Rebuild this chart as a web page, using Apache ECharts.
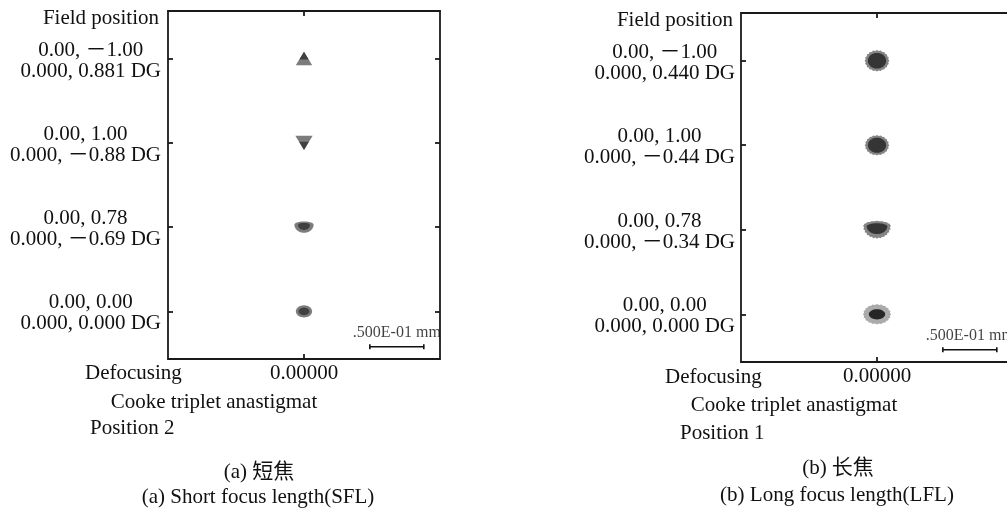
<!DOCTYPE html>
<html><head><meta charset="utf-8">
<script src="https://cdn.jsdelivr.net/npm/echarts@6/dist/echarts.min.js"></script>
<style>html,body{margin:0;padding:0;background:#fff}#c{width:1007px;height:511px}</style>
</head><body><div id="c"></div>
<script>
// ---------- data ----------
const fieldIndex = [0, 1, 2, 3];
const fieldCoords = ['0.00, －1.00', '0.00, 1.00', '0.00, 0.78', '0.00, 0.00'];
const fieldAnglesSFL = ['0.000, 0.881 DG', '0.000, －0.88 DG', '0.000, －0.69 DG', '0.000, 0.000 DG'];
const fieldAnglesLFL = ['0.000, 0.440 DG', '0.000, －0.44 DG', '0.000, －0.34 DG', '0.000, 0.000 DG'];
const defocusValue = '0.00000';
// spot centroid x (mm) and spot extents (mm)
const spotXSFL = [0, 0, 0, 0];
const spotWidthSFL = [0.0152, 0.0160, 0.0178, 0.0150];
const spotHeightSFL = [0.0125, 0.0130, 0.0105, 0.0112];
const coreWidthSFL = [0.0085, 0.0090, 0.0110, 0.0100];
const coreHeightSFL = [0.0070, 0.0075, 0.0065, 0.0070];
const spotXLFL = [0, 0, 0, 0];
const spotWidthLFL = [0.0230, 0.0228, 0.0262, 0.0262];
const spotHeightLFL = [0.0200, 0.0190, 0.0165, 0.0190];
const coreWidthLFL = [0.0170, 0.0168, 0.0190, 0.0150];
const coreHeightLFL = [0.0145, 0.0140, 0.0100, 0.0095];
const scaleBarMm = [0.061, 0.111];
const scaleBarField = 3.42;
const scaleBarLabel = '.500E-01 mm';
const xRangeMm = [-0.126, 0.126];
const fieldRange = [-0.565, 3.565];

// ---------- style ----------
const FONT = '"Liberation Serif", "Noto Sans CJK SC", serif';
const INK = '#111';
const lineStyle = { color: '#1a1a1a', width: 1.8 };
const spotKindsSFL = ['up', 'down', 'bowl', 'oval'];
const spotKindsLFL = ['blob', 'blob', 'bowl', 'halo'];

function ellipsePts(cx, cy, rx, ry, t0, t1, n, jag) {
  const pts = [];
  for (let k = 0; k <= n; k++) {
    const t = t0 + (t1 - t0) * k / n;
    const f = jag ? (k % 2 ? 0.92 : 1) : 1;
    pts.push([cx + rx * f * Math.cos(t), cy + ry * f * Math.sin(t)]);
  }
  return pts;
}
function bowlPts(cx, top, rx, h, jag) {
  const cy = top + h * 0.28;
  const lower = ellipsePts(cx, cy, rx, h * 0.72, 0, Math.PI, 24, jag);
  const upper = ellipsePts(cx, cy, rx, h * 0.28, Math.PI, Math.PI * 2, 16, jag);
  return lower.concat(upper);
}

function makeRender(kinds, halo, core, jagged) {
  return function (params, api) {
    const c = api.coord([api.value(0), api.value(1)]);
    const w = api.size([api.value(2), 0])[0];
    const h = api.size([api.value(3), 0])[0];
    const cw = api.size([api.value(4), 0])[0];
    const ch = api.size([api.value(5), 0])[0];
    const kind = kinds[params.dataIndex];
    const x = c[0], y = c[1];
    let outer, inner, oc = halo, ic = core;
    if (kind === 'up') {
      outer = [[x, y - h / 2], [x + w / 2, y + h / 2], [x - w / 2, y + h / 2]];
      inner = [[x, y - h / 2], [x + cw / 2, y - h / 2 + ch], [x - cw / 2, y - h / 2 + ch]];
    } else if (kind === 'down') {
      outer = [[x - w / 2, y - h / 2], [x + w / 2, y - h / 2], [x, y + h / 2]];
      inner = [[x, y + h / 2], [x + cw / 2, y + h / 2 - ch], [x - cw / 2, y + h / 2 - ch]];
    } else if (kind === 'bowl') {
      outer = bowlPts(x, y - h / 2, w / 2, h, jagged);
      inner = bowlPts(x, y - h / 2 + (h - ch) * 0.35, cw / 2, ch, false);
    } else if (kind === 'halo') {
      outer = ellipsePts(x, y, w / 2, h / 2, 0, Math.PI * 2, 40, true);
      inner = ellipsePts(x, y, cw / 2, ch / 2, 0, Math.PI * 2, 32, false);
      oc = '#ababab'; ic = '#262626';
    } else if (kind === 'blob') {
      outer = ellipsePts(x, y, w / 2, h / 2, 0, Math.PI * 2, 40, true);
      inner = ellipsePts(x, y, cw / 2, ch / 2, 0, Math.PI * 2, 32, false);
    } else {
      outer = ellipsePts(x, y, w / 2, h / 2, 0, Math.PI * 2, 32, false);
      inner = ellipsePts(x, y, cw / 2, ch / 2, 0, Math.PI * 2, 32, false);
    }
    return {
      type: 'group',
      children: [
        { type: 'polygon', shape: { points: outer }, style: { fill: oc } },
        { type: 'polygon', shape: { points: inner }, style: { fill: ic } }
      ]
    };
  };
}

function xAxes(gi) {
  const base = {
    type: 'value', gridIndex: gi, min: xRangeMm[0], max: xRangeMm[1],
    axisLine: { show: true, onZero: false, lineStyle },
    axisTick: { show: true, inside: true, length: 5, customValues: [0], lineStyle },
    splitLine: { show: false }
  };
  return [
    Object.assign({}, base, { position: 'bottom',
      axisLabel: { show: true, customValues: [0], formatter: () => defocusValue, margin: 4,
        fontSize: 21, fontFamily: FONT, color: INK } }),
    Object.assign({}, base, { position: 'top', axisLabel: { show: false } })
  ];
}
function yAxes(gi, angles, margin) {
  const base = {
    type: 'value', gridIndex: gi, min: fieldRange[0], max: fieldRange[1], inverse: true,
    axisLine: { show: true, onZero: false, lineStyle },
    axisTick: { show: true, inside: true, length: 5, customValues: fieldIndex, lineStyle },
    splitLine: { show: false }
  };
  return [
    Object.assign({}, base, { position: 'left',
      axisLabel: { show: true, customValues: fieldIndex, margin: margin, align: 'right',
        padding: [4, 0, 0, 0],
        formatter: v => { const i = Math.round(v); return '{c|' + fieldCoords[i] + '}\n{c|' + angles[i] + '}'; },
        rich: { c: { align: 'center', fontSize: 21, lineHeight: 21, fontFamily: FONT, color: INK } } } }),
    Object.assign({}, base, { position: 'right', axisLabel: { show: false } })
  ];
}

function spotSeries(xi, yi, xs, ws, hs, cws, chs, kinds, halo, core, jagged) {
  return {
    type: 'custom', xAxisIndex: xi, yAxisIndex: yi, silent: true, clip: false,
    renderItem: makeRender(kinds, halo, core, jagged),
    encode: { x: 0, y: 1 },
    data: fieldIndex.map(i => [xs[i], i, ws[i], hs[i], cws[i], chs[i]])
  };
}
function scaleBar(xi, yi) {
  return [{
    type: 'line', xAxisIndex: xi, yAxisIndex: yi, silent: true,
    data: scaleBarMm.map(v => [v, scaleBarField]),
    symbol: 'rect', symbolSize: [1.6, 5], itemStyle: { color: INK },
    lineStyle: { color: INK, width: 1.6 }
  }, {
    type: 'scatter', xAxisIndex: xi, yAxisIndex: yi, silent: true,
    data: [[(scaleBarMm[0] + scaleBarMm[1]) / 2, scaleBarField]],
    symbolSize: 0,
    label: { show: true, position: 'top', distance: 6, formatter: scaleBarLabel,
      fontSize: 16, fontFamily: FONT, color: INK }
  }];
}

function txt(x, y, s, align) {
  return { type: 'text', x: x, y: y, silent: true,
    style: { text: s, fontSize: 21, fontFamily: FONT, fill: INK, align: align || 'left', verticalAlign: 'middle' } };
}

const chart = echarts.init(document.getElementById('c'), null, { renderer: 'canvas' });
chart.setOption({
  animation: false,
  backgroundColor: '#fff',
  grid: [
    { left: 168, top: 11, width: 272, height: 348, containLabel: false, outerBoundsMode: 'none' },
    { left: 741, top: 13, width: 272, height: 349, containLabel: false, outerBoundsMode: 'none' }
  ],
  xAxis: xAxes(0).concat(xAxes(1)),
  yAxis: yAxes(0, fieldAnglesSFL, 7).concat(yAxes(1, fieldAnglesLFL, 6)),
  series: [
    spotSeries(0, 0, spotXSFL, spotWidthSFL, spotHeightSFL, coreWidthSFL, coreHeightSFL, spotKindsSFL, '#7c7c7c', '#404040', false),
    spotSeries(2, 2, spotXLFL, spotWidthLFL, spotHeightLFL, coreWidthLFL, coreHeightLFL, spotKindsLFL, '#858585', '#353535', true)
  ].concat(scaleBar(0, 0)).concat(scaleBar(2, 2)),
  graphic: [
    txt(159, 18, 'Field position', 'right'),
    txt(85, 373, 'Defocusing'),
    txt(214, 402, 'Cooke triplet anastigmat', 'center'),
    txt(90, 428, 'Position 2'),
    txt(259, 472, '(a) 短焦', 'center'),
    txt(258, 497, '(a) Short focus length(SFL)', 'center'),
    txt(733, 20, 'Field position', 'right'),
    txt(665, 377, 'Defocusing'),
    txt(794, 405, 'Cooke triplet anastigmat', 'center'),
    txt(680, 433, 'Position 1'),
    txt(838, 468, '(b) 长焦', 'center'),
    txt(837, 495, '(b) Long focus length(LFL)', 'center')
  ]
});
</script></body></html>
